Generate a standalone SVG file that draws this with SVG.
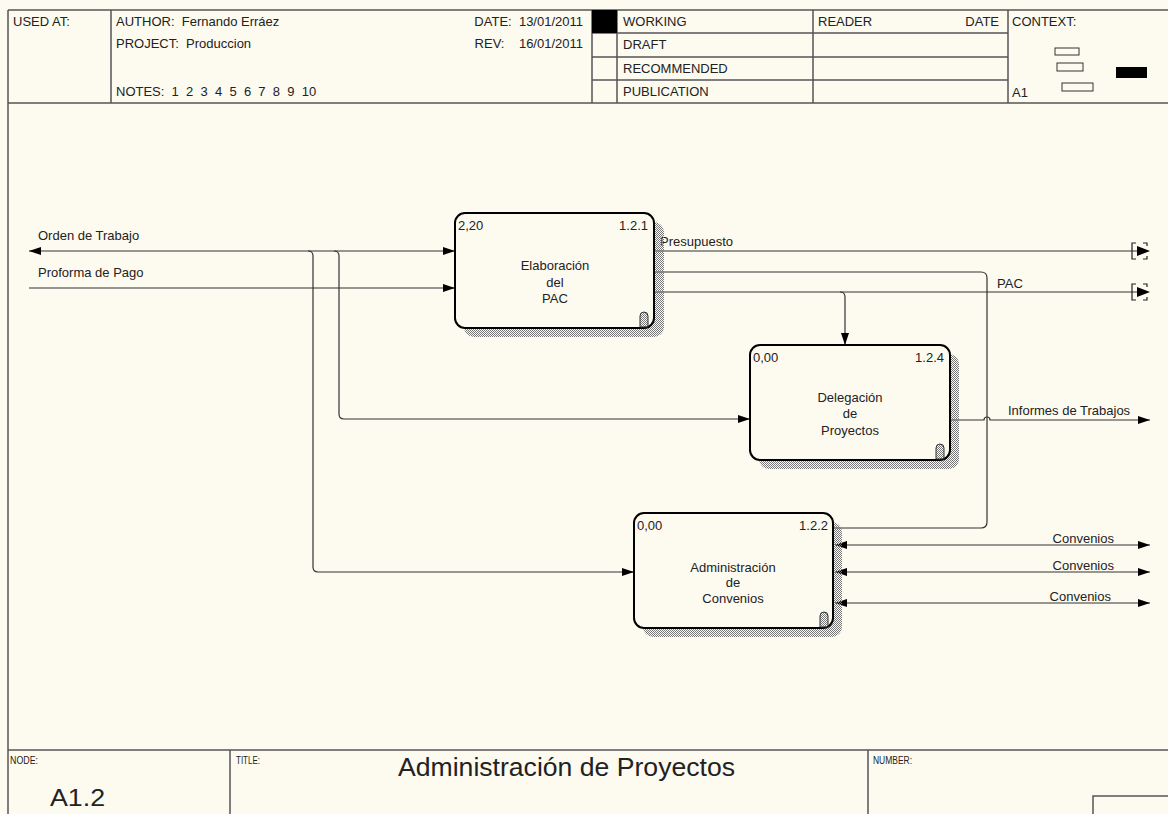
<svg xmlns="http://www.w3.org/2000/svg" width="1168" height="814" viewBox="0 0 1168 814">
<style>
text{font-family:"Liberation Sans",Arial,sans-serif;fill:#222;}
.t{font-size:13px;}
.sm{font-size:11px;}
.frame{stroke:#555;stroke-width:1.5;fill:none;}
.conn{stroke:#333;stroke-width:1.2;fill:none;}
.tun{stroke:#222;stroke-width:1.2;fill:none;}
.box{fill:#fdfaf0;stroke:#000;stroke-width:2;}
.shadow{fill:url(#hatch);stroke:none;}
.icon{fill:url(#hatch);stroke:#333;stroke-width:1;}
.head{fill:#000;}
</style>
<defs>
<pattern id="hatch" width="2" height="2" patternUnits="userSpaceOnUse">
<rect x="0" y="0" width="1" height="1" fill="#777"/>
<rect x="1" y="1" width="1" height="1" fill="#777"/>
</pattern>
<marker id="ah" viewBox="0 0 12 8" refX="12" refY="4" markerWidth="12" markerHeight="8" markerUnits="userSpaceOnUse" orient="auto-start-reverse">
<path d="M0,0 L12,4 L0,8 z" fill="#000"/>
</marker>
</defs>
<rect x="0" y="0" width="1168" height="814" fill="#fdfaf0"/>

<g id="frame">
<path class="frame" d="M8,10 H1168 M8,10 V814 M8,103 H1168 M111,10 V103 M592,10 V103 M617,10 V103 M813,10 V103 M1008,10 V103 M592,33 H1008 M592,57 H1008 M592,80 H1008"/>
<rect x="592" y="10" width="25" height="23" fill="#000"/>
<path class="frame" d="M8,750 H1168 M230,750 V814 M868,750 V814 M1093,814 V796 H1168"/>
<rect x="1055" y="48" width="24" height="7" fill="none" stroke="#333" stroke-width="1"/>
<rect x="1057" y="63" width="26" height="8" fill="none" stroke="#333" stroke-width="1"/>
<rect x="1062" y="83" width="31" height="8" fill="none" stroke="#333" stroke-width="1"/>
<rect x="1116" y="67" width="31" height="11" fill="#000"/>
<text class="t" x="13" y="26">USED AT:</text>
<text class="t" x="116" y="26" xml:space="preserve">AUTHOR:  Fernando Erráez</text>
<text class="t" x="116" y="48" xml:space="preserve">PROJECT:  Produccion</text>
<text class="t" x="116" y="96" xml:space="preserve">NOTES:  1  2  3  4  5  6  7  8  9  10</text>
<text class="t" x="583" y="26" text-anchor="end" xml:space="preserve">DATE:  13/01/2011</text>
<text class="t" x="583" y="48" text-anchor="end" xml:space="preserve">REV:    16/01/2011</text>
<text class="t" x="623" y="26">WORKING</text>
<text class="t" x="623" y="49">DRAFT</text>
<text class="t" x="623" y="73">RECOMMENDED</text>
<text class="t" x="623" y="96">PUBLICATION</text>
<text class="t" x="818" y="26">READER</text>
<text class="t" x="999" y="26" text-anchor="end">DATE</text>
<text class="t" x="1012" y="26">CONTEXT:</text>
<text class="t" x="1012" y="97">A1</text>
<text class="sm" x="10" y="764" textLength="28" lengthAdjust="spacingAndGlyphs">NODE:</text>
<text class="sm" x="236" y="764" textLength="24" lengthAdjust="spacingAndGlyphs">TITLE:</text>
<text class="sm" x="873" y="764" textLength="39" lengthAdjust="spacingAndGlyphs">NUMBER:</text>
<text x="50" y="806" style="font-size:24px" textLength="55" lengthAdjust="spacingAndGlyphs">A1.2</text>
<text x="398" y="776" style="font-size:25px" textLength="337" lengthAdjust="spacingAndGlyphs">Administración de Proyectos</text>
</g>

<g id="connectors">
<path class="conn" d="M29,251 H455" marker-start="url(#ah)" marker-end="url(#ah)"/>
<path class="conn" d="M308,251 Q313,251 313,256 V567 Q313,572 318,572 H634" marker-end="url(#ah)"/>
<path class="conn" d="M334,251 Q339,251 339,256 V414 Q339,419 344,419 H750" marker-end="url(#ah)"/>
<path class="conn" d="M29,288 H455" marker-end="url(#ah)"/>
<path class="conn" d="M654,251 H1138"/>
<polygon class="head" points="1137,246 1150,251 1137,256"/>
<path class="conn" d="M654,272 H981 Q987,272 987,278 V522 Q987,528 981,528 H833"/>
<path class="conn" d="M654,292 H1138"/>
<polygon class="head" points="1137,287 1150,292 1137,297"/>
<path class="conn" d="M840,292 Q845,292 845,297 V345" marker-end="url(#ah)"/>
<path class="conn" d="M950,420 H984 A3,3 0 0 1 990,420 H1150" marker-end="url(#ah)"/>
<path class="conn" d="M835,545 H1150" marker-start="url(#ah)" marker-end="url(#ah)"/>
<path class="conn" d="M835,572 H1150" marker-start="url(#ah)" marker-end="url(#ah)"/>
<path class="conn" d="M835,603 H1150" marker-start="url(#ah)" marker-end="url(#ah)"/>
<path class="tun" d="M1136,243 H1132 V259 H1136 M1143,243 H1147 V246 M1147,256 V259 H1143"/>
<path class="tun" d="M1136,284 H1132 V300 H1136 M1143,284 H1147 V287 M1147,297 V300 H1143"/>
<text class="t" x="38" y="240">Orden de Trabajo</text>
<text class="t" x="38" y="277">Proforma de Pago</text>
<text class="t" x="660" y="246">Presupuesto</text>
<text class="t" x="997" y="288">PAC</text>
<text class="t" x="1008" y="415">Informes de Trabajos</text>
<text class="t" x="1114" y="543" text-anchor="end">Convenios</text>
<text class="t" x="1114" y="570" text-anchor="end">Convenios</text>
<text class="t" x="1111" y="601" text-anchor="end">Convenios</text>
</g>

<g id="node-121">
<rect class="shadow" x="464" y="222" width="200" height="115" rx="10"/>
<rect class="box" x="455" y="213" width="199" height="115" rx="10"/>
<path class="icon" d="M640,327 V316 A4,4 0 0 1 648,316 V327 Z"/>
<text class="t" x="458" y="230">2,20</text>
<text class="t" x="648" y="230" text-anchor="end">1.2.1</text>
<text class="t" x="555" y="270" text-anchor="middle">Elaboración</text>
<text class="t" x="555" y="287" text-anchor="middle">del</text>
<text class="t" x="555" y="303" text-anchor="middle">PAC</text>
</g>

<g id="node-124">
<rect class="shadow" x="759" y="354" width="200" height="115" rx="10"/>
<rect class="box" x="750" y="345" width="200" height="115" rx="10"/>
<path class="icon" d="M936,459 V448 A4,4 0 0 1 944,448 V459 Z"/>
<text class="t" x="753" y="362">0,00</text>
<text class="t" x="944" y="362" text-anchor="end">1.2.4</text>
<text class="t" x="850" y="402" text-anchor="middle">Delegación</text>
<text class="t" x="850" y="418" text-anchor="middle">de</text>
<text class="t" x="850" y="435" text-anchor="middle">Proyectos</text>
</g>

<g id="node-122">
<rect class="shadow" x="643" y="522" width="199" height="115" rx="10"/>
<rect class="box" x="634" y="513" width="199" height="115" rx="10"/>
<path class="icon" d="M820,627 V616 A4,4 0 0 1 828,616 V627 Z"/>
<text class="t" x="637" y="530">0,00</text>
<text class="t" x="828" y="530" text-anchor="end">1.2.2</text>
<text class="t" x="733" y="572" text-anchor="middle">Administración</text>
<text class="t" x="733" y="587" text-anchor="middle">de</text>
<text class="t" x="733" y="603" text-anchor="middle">Convenios</text>
</g>
</svg>
